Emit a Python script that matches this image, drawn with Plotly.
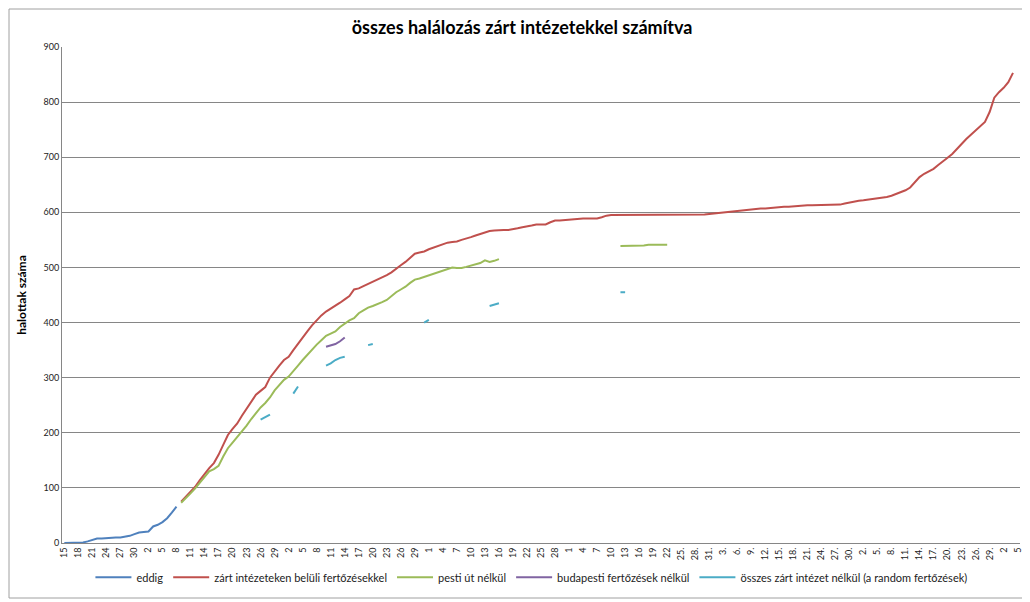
import plotly.graph_objects as go

# x tick labels (every 3rd day, 15 March -> 5 October)
tick_labels = [
    "15", "18", "21", "24", "27", "30",
    "2", "5", "8", "11", "14", "17", "20", "23", "26", "29",
    "2", "5", "8", "11", "14", "17", "20", "23", "26", "29",
    "1", "4", "7", "10", "13", "16", "19", "22", "25", "28",
    "1", "4", "7", "10", "13", "16", "19", "22", "25.", "28.", "31.",
    "3.", "6.", "9.", "12.", "15.", "18.", "21.", "24.", "27.", "30.",
    "2.", "5.", "8.", "11.", "14.", "17.", "20.", "23.", "26.", "29.",
    "2", "5",
]
n_days = 205

# series values (start index, values)
eddig_start = 0
eddig = [0, 0, 1, 1, 1, 3, 6, 8, 8, 9, 9, 10, 10, 11, 13, 16, 19, 20, 21, 30,
         33, 38, 45, 55, 66]

zart_start = 25
zart = [75, 84, 93, 102, 114, 126, 136, 145, 160, 178, 196, 207, 217, 231, 244,
        258, 269, 276, 283, 300, 312, 322, 332, 338, 350, 362, 374, 384, 395, 405,
        413, 420, 425, 430, 436, 442, 448, 460, 462, 466, 470, 473, 478, 482, 486,
        491, 498, 504, 510, 518, 525, 527, 529, 533, 536, 540, 542, 545, 546, 547,
        550, 552, 555, 558, 561, 564, 566, 567, 568, 568, 568, 569, 571, 573, 574,
        576, 578, 578, 578, 582, 585, 585, 586, 587, 588, 589, 589, 589, 589, 589,
        591, 594, 595, 595, 595, 595, 595, 595, 595, 595, 595, 595, 595, 595, 595,
        595, 595, 595, 595, 595, 595, 595, 596, 597, 598, 599, 600, 601, 602, 603,
        604, 605, 606, 607, 607, 607, 608, 608, 609, 610, 610, 611, 612, 613, 613,
        613, 613, 613, 613, 613, 613, 614, 616, 618, 619, 621, 622, 623, 624, 625,
        626, 628, 630, 633, 636, 640, 645, 655, 664, 670, 675, 679, 686, 692, 699,
        706, 716, 724, 733, 741, 749, 756, 764, 782, 808, 818, 826, 836, 853]

pesti_start_1 = 25
pesti_1 = [73, 81, 90, 99, 110, 121, 130, 134, 140, 157, 172, 182, 192, 202, 213,
           225, 236, 246, 254, 264, 277, 286, 296, 302, 311, 322, 332, 342, 350, 360,
           368, 376, 380, 384, 392, 398, 404, 408, 417, 422, 427, 430, 433, 437, 441,
           448, 455, 460, 465, 472, 478, 480, 483, 485, 488, 492, 494, 497, 500, 499,
           499, 501, 503, 505, 508, 513, 510, 512, 515]
pesti_start_2 = 119
pesti_2 = [539, 539, 539, 539, 539, 540, 541, 541, 541, 541, 541]

budapest_start = 56
budapest = [356, 358, 361, 366, 373]

# cyan segments: (start index, values)
osszes_segments = [
    (42, [224, 228, 233]),
    (49, [271, 284]),
    (56, [322, 326, 332, 336, 338]),
    (65, [359, 361]),
    (77, [400, 405]),
    (91, [430, 432, 435]),
    (119, [455, 455]),
]

series_names = ["eddig", "zárt intézeteken belüli fertőzésekkel", "pesti út nélkül",
                "budapesti fertőzések nélkül",
                "összes zárt intézet nélkül (a random fertőzések)"]
colors = ["#4F81BD", "#C0504D", "#9BBB59", "#8064A2", "#4BACC6"]


def place(segs):
    y = [None] * n_days
    for start, vals in segs:
        for k, v in enumerate(vals):
            y[start + k] = v
    return y


x = list(range(n_days))
ys = [
    place([(eddig_start, eddig)]),
    place([(zart_start, zart)]),
    place([(pesti_start_1, pesti_1), (pesti_start_2, pesti_2)]),
    place([(budapest_start, budapest)]),
    place(osszes_segments),
]

fig = go.Figure()
for name, col, y in zip(series_names, colors, ys):
    fig.add_trace(go.Scatter(x=x, y=y, mode="lines", name=name,
                             line=dict(color=col, width=2),
                             connectgaps=False))

font_family = "Lato, 'Liberation Sans', sans-serif"
fig.update_layout(
    width=1022, height=594,
    margin=dict(l=54, r=10, t=39, b=59, autoexpand=False),
    paper_bgcolor="white", plot_bgcolor="white",
    font=dict(family=font_family, color="#222"),
    title=dict(text="<b>összes halálozás zárt intézetekkel számítva</b>",
               x=0.503, xanchor="center", y=0.966, yanchor="middle",
               font=dict(size=18, color="#000")),
    showlegend=True,
    legend=dict(orientation="h", x=0.49, xanchor="center", y=-0.04, yanchor="top",
                font=dict(size=11, color="#222"), itemwidth=36,
                tracegroupgap=0, bgcolor="rgba(0,0,0,0)"),
    xaxis=dict(
        range=[-0.5, n_days - 0.5],
        tickmode="array", tickvals=list(range(0, n_days, 3)), ticktext=tick_labels,
        tickangle=-90, tickfont=dict(size=9, color="#222"),
        showgrid=False, zeroline=False, automargin=False,
        showline=True, linecolor="#868686", linewidth=1,
        ticks="", fixedrange=True,
    ),
    yaxis=dict(
        range=[0, 900], dtick=100, tick0=0,
        tickfont=dict(size=9, color="#222"),
        showgrid=True, gridcolor="#868686", gridwidth=1,
        zeroline=False, showline=True, linecolor="#868686", linewidth=1,
        ticks="", fixedrange=True, automargin=False,
        title=dict(text="<b>halottak száma</b>", font=dict(size=12, color="#000"),
                   standoff=14),
    ),
)

# chart border like Excel chart area
fig.add_shape(type="rect", xref="paper", yref="paper",
              x0=(9 - 62) / 958, x1=(1028 - 62) / 958,
              y0=(543 - 598) / 496, y1=(543 - 9) / 496,
              line=dict(color="#A0A0A0", width=1), fillcolor="rgba(0,0,0,0)",
              layer="below")

fig.write_html("out.html")
